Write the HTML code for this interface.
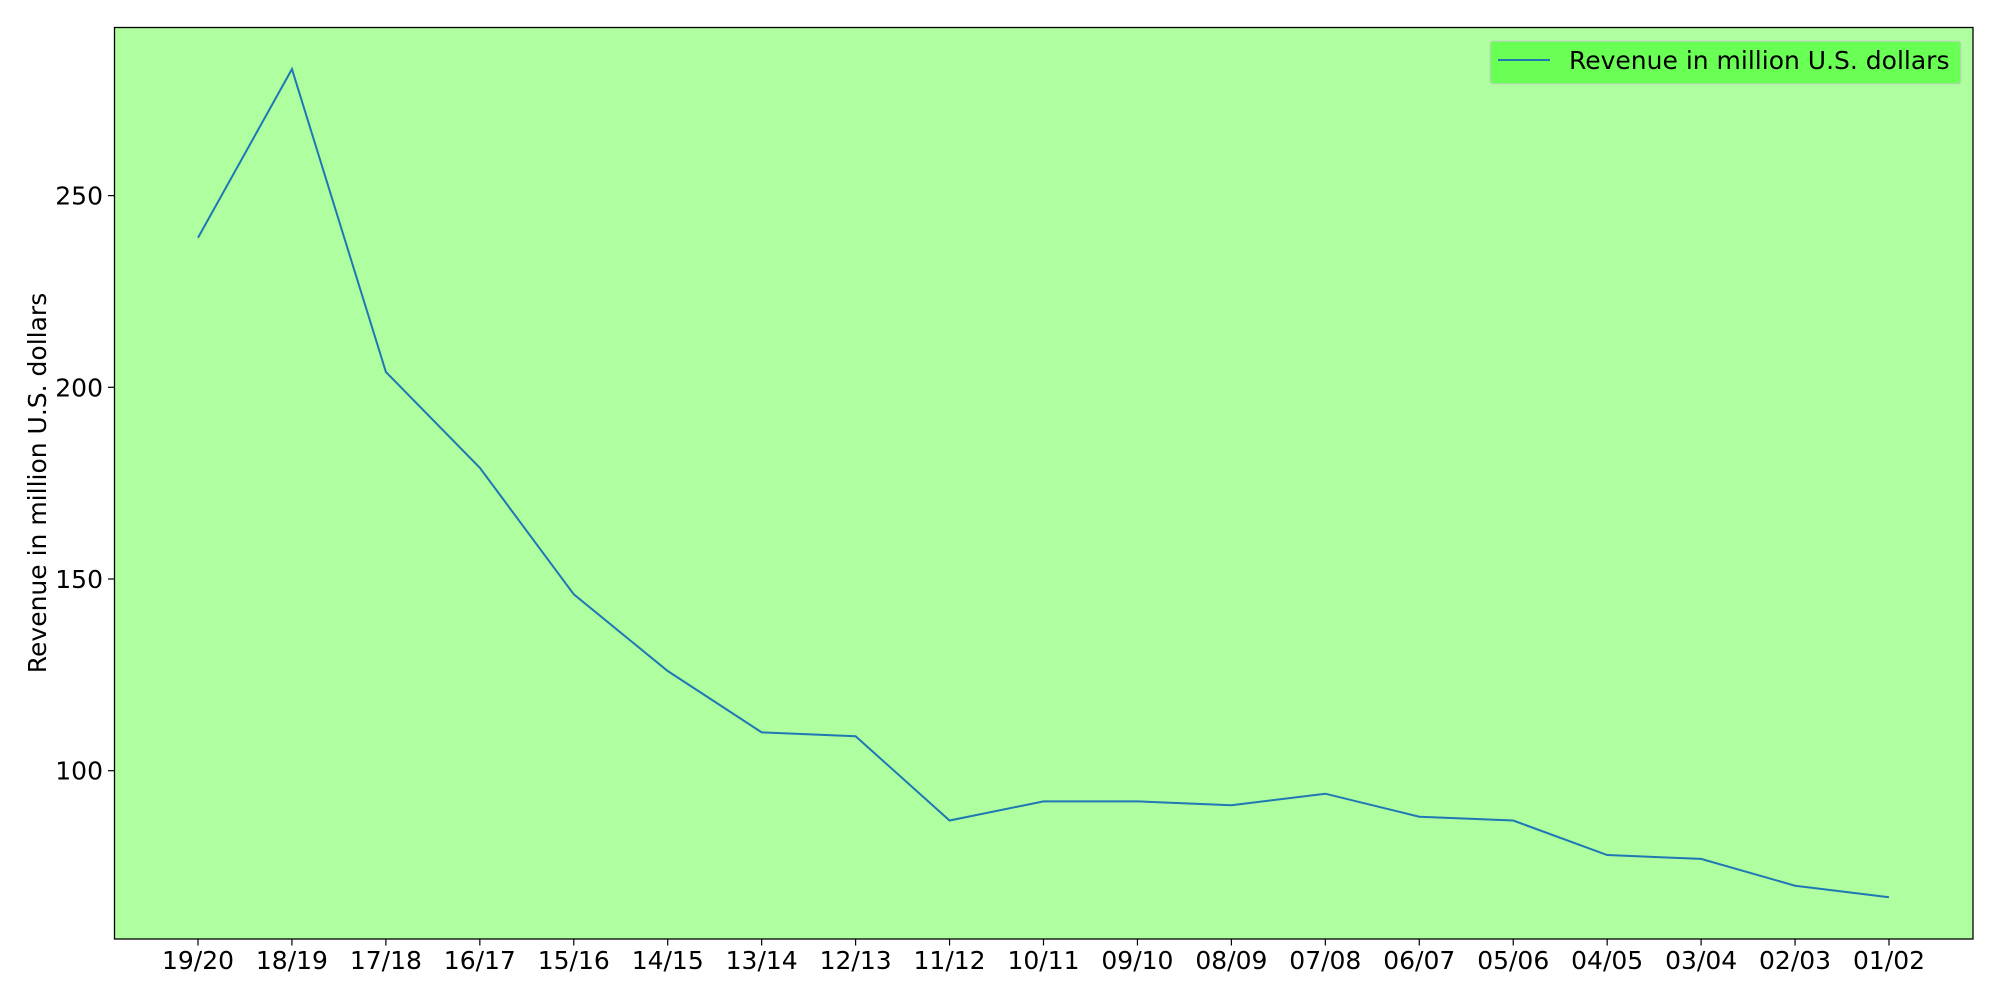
<!DOCTYPE html>
<html><head><meta charset="utf-8"><style>
html,body{margin:0;padding:0;background:#fff;}
svg{display:block;font-family:"DejaVu Sans","Liberation Sans",sans-serif;}
</style></head><body>
<svg id="chart" width="2000" height="1000" xmlns="http://www.w3.org/2000/svg">
<rect x="114.5" y="27.5" width="1858.5" height="911.5" fill="#afffa0" stroke="none"/>
<g id="yticks"></g>
<g id="xticks"></g>
<polyline id="line" fill="none" stroke="#1f77b4" stroke-width="2"/>
<rect x="114.5" y="27.5" width="1858.5" height="911.5" fill="none" stroke="#000" stroke-width="1.3"/>
<text transform="translate(46,483) rotate(-90)" text-anchor="middle" font-size="25">Revenue in million U.S. dollars</text>
<g>
<rect x="1490" y="41" width="471" height="43" rx="3" fill="#6aff55" stroke="#cccccc" stroke-width="1"/>
<line x1="1498" y1="60" x2="1550" y2="60" stroke="#1f77b4" stroke-width="2"/>
<text x="1569" y="69" font-size="25">Revenue in million U.S. dollars</text>
</g>
</svg>
<script>
const categories = ["19/20","18/19","17/18","16/17","15/16","14/15","13/14","12/13","11/12","10/11","09/10","08/09","07/08","06/07","05/06","04/05","03/04","02/03","01/02"];
const revenue = [239,283,204,179,146,126,110,109,87,92,92,91,94,88,87,78,77,70,67];
const yTicks = [100,150,200,250];
const NS="http://www.w3.org/2000/svg";
function xPos(i){return 198+i*(1889-198)/(categories.length-1);}
function yPos(v){return 770.7-(v-100)*3.834;}
const yg=document.getElementById('yticks'), xg=document.getElementById('xticks');
yTicks.forEach(v=>{
  const y=yPos(v);
  const l=document.createElementNS(NS,'line');
  
  
  l.setAttribute('x1',108);l.setAttribute('x2',114.5);l.setAttribute('y1',y);l.setAttribute('y2',y);l.setAttribute('stroke','#000');l.setAttribute('stroke-width','1.2');
  yg.appendChild(l);
  const t=document.createElementNS(NS,'text');
  
  
  t.setAttribute('x',103);t.setAttribute('y',y+9);t.setAttribute('text-anchor','end');t.setAttribute('font-size','25');
  t.textContent=v;yg.appendChild(t);
});
categories.forEach((c,i)=>{
  const x=xPos(i);
  const l=document.createElementNS(NS,'line');
  
  
  l.setAttribute('x1',x);l.setAttribute('x2',x);l.setAttribute('y1',939);l.setAttribute('y2',945.5);l.setAttribute('stroke','#000');l.setAttribute('stroke-width','1.2');
  xg.appendChild(l);
  const t=document.createElementNS(NS,'text');
  
  
  t.setAttribute('x',x);t.setAttribute('y',969);t.setAttribute('text-anchor','middle');t.setAttribute('font-size','25');
  t.textContent=c;xg.appendChild(t);
});
document.getElementById('line').setAttribute('points',revenue.map((v,i)=>xPos(i)+','+yPos(v)).join(' '));
</script>
</body></html>
